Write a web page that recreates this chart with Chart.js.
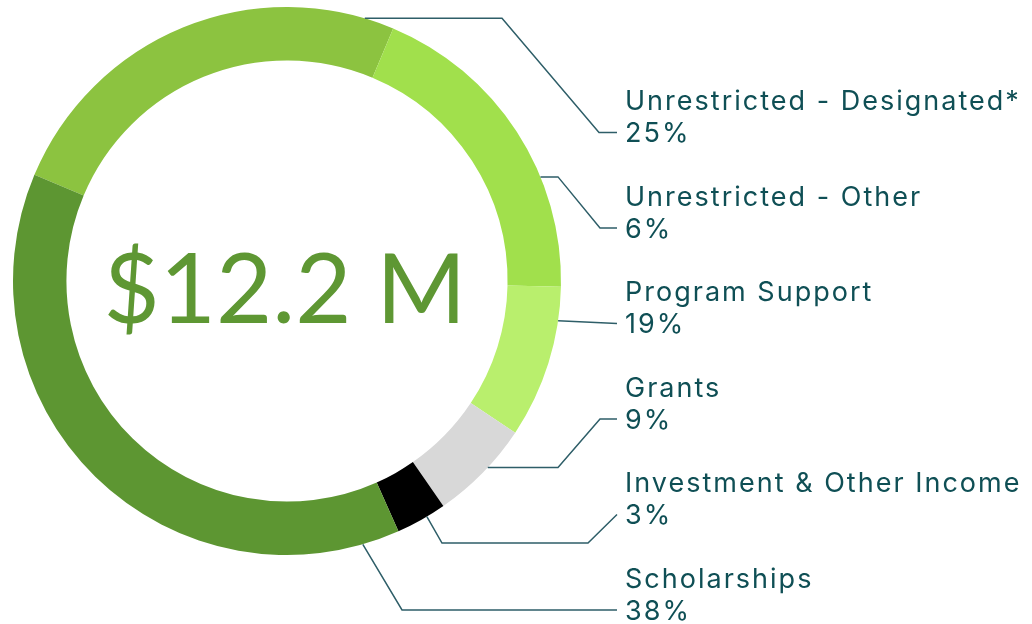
<!DOCTYPE html>
<html>
<head>
<meta charset="utf-8">
<script src="https://cdn.jsdelivr.net/npm/chart.js@4/dist/chart.umd.min.js"></script>
<style>
  html, body { margin: 0; padding: 0; background: #ffffff; }
  #wrap { position: relative; width: 1032px; height: 624px; }
</style>
</head>
<body>
<div id="wrap"><canvas id="c" width="1032" height="624"></canvas></div>
<script>
// ---- data (segments clockwise, as drawn) ----
const categories = ['Unrestricted - Designated*', 'Unrestricted - Other', 'Program Support', 'Grants', 'Investment & Other Income', 'Scholarships'];
const arcValues = [25, 19, 9, 6, 3, 38];
const shownPercents = [25, 6, 19, 9, 3, 38];
const segmentColors = ['#8cc340', '#a1e04c', '#b9ef6d', '#d8d8d8', '#000000', '#5d9632'];
const centerLabel = '$12.2 M';

// ---- layout for labels / leader lines ----
const labelX = 625;
const firstNameBaseline = 110;
const blockStep = 95.5;
const pctOffset = 32;
const TEXT_COLOR = '#0f4f55';
const LINE_COLOR = '#2e5e68';
const anchorFrac = [0.93, 0.656, 0.22, 0.43, 0.38, 0.058];
const leaders = [
  [[502, 'a'], [599, 'L'], [617, 'L']],
  [[558, 'a'], [600, 'L'], [617, 'L']],
  [[617, 'L']],
  [[558, 'a'], [600, 'L'], [617, 'L']],
  [[442, 543], [588, 543], [617, 'L']],
  [[402, 'L'], [617, 'L']]
];

const labelPlugin = {
  id: 'labels',
  afterDraw(chart) {
    const ctx = chart.ctx;
    const meta = chart.getDatasetMeta(0);
    const arc0 = meta.data[0];
    const cx = arc0.x;
    ctx.save();
    // center text
    ctx.fillStyle = '#5e9733';
    ctx.font = '400 97px Lato';
    ctx.textAlign = 'center';
    ctx.textBaseline = 'alphabetic';
    ctx.fillText(centerLabel, cx - 2, 323);

    // labels
    ctx.textAlign = 'left';
    ctx.font = '400 27px Inter';
    const targetW = 394;
    const baseW = ctx.measureText(categories[0]).width;
    const ls = (targetW - baseW) / (categories[0].length - 1);
    ctx.letterSpacing = ls.toFixed(2) + 'px';
    ctx.fillStyle = TEXT_COLOR;
    categories.forEach((name, i) => {
      const yb = firstNameBaseline + i * blockStep;
      ctx.fillText(name, labelX, yb);
      ctx.fillText(shownPercents[i] + '%', labelX, yb + pctOffset);
    });

    // leader lines
    ctx.strokeStyle = LINE_COLOR;
    ctx.lineWidth = 1.5;
    ctx.lineJoin = 'miter';
    meta.data.forEach((arc, i) => {
      const p = arc.getProps(['x', 'y', 'startAngle', 'endAngle', 'outerRadius'], true);
      const ang = p.startAngle + (p.endAngle - p.startAngle) * anchorFrac[i];
      const ax = p.x + Math.cos(ang) * p.outerRadius;
      const ay = p.y + Math.sin(ang) * p.outerRadius;
      const lineY = firstNameBaseline + i * blockStep + pctOffset - 9.5;
      ctx.beginPath();
      ctx.moveTo(ax, ay);
      leaders[i].forEach(pt => {
        const x = pt[0];
        const y = pt[1] === 'a' ? ay : (pt[1] === 'L' ? lineY : pt[1]);
        ctx.lineTo(x, y);
      });
      ctx.stroke();
    });
    ctx.restore();
  }
};

new Chart(document.getElementById('c'), {
  type: 'doughnut',
  data: {
    labels: categories,
    datasets: [{
      data: arcValues,
      backgroundColor: segmentColors,
      borderWidth: 0,
      hoverOffset: 0
    }]
  },
  options: {
    responsive: false,
    animation: false,
    rotation: -67.2,
    cutout: '80.5%',
    layout: { padding: { left: 13, right: 471, top: 7, bottom: 69 } },
    plugins: { legend: { display: false }, tooltip: { enabled: false } }
  },
  plugins: [labelPlugin]
});
</script>
</body>
</html>
